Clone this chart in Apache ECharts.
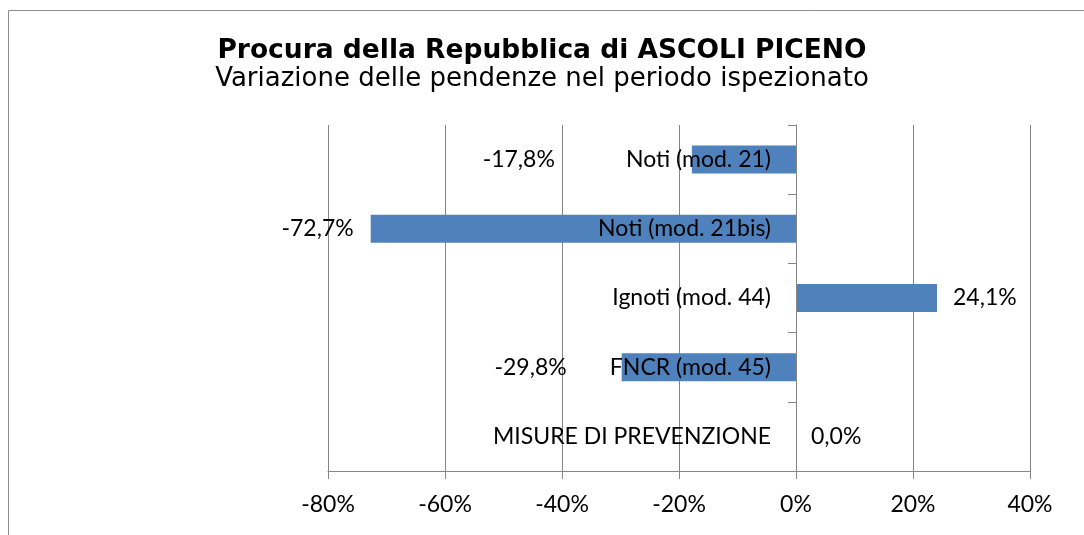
<!DOCTYPE html>
<html><head><meta charset="utf-8">
<script src="https://cdn.jsdelivr.net/npm/echarts@6/dist/echarts.min.js"></script>
<style>html,body{margin:0;padding:0;background:#fff}#c{width:1084px;height:535px}</style>
</head><body><div id="c"></div>
<script>
const categories = ['Noti (mod. 21)', 'Noti (mod. 21bis)', 'Ignoti (mod. 44)', 'FNCR (mod. 45)', 'MISURE DI PREVENZIONE'];
const values = [-17.8, -72.7, 24.1, -29.8, 0.0];
const xTicks = { min: -80, max: 40, interval: 20 };
const titleText = 'Procura della Repubblica di ASCOLI PICENO';
const subtitleText = 'Variazione delle pendenze nel periodo ispezionato';

// label placement styling (mimics the original label positions)
const labelShift = [-137, -17, 16, -55, 15];

const GRID_LEFT = 328, GRID_RIGHT = 54;
const plotW = 1084 - GRID_LEFT - GRID_RIGHT;
// move the category axis onto the zero line
const zeroOffset = -plotW * (0 - xTicks.min) / (xTicks.max - xTicks.min);

const LF = 'Lato';
const chart = echarts.init(document.getElementById('c'), null, { renderer: 'canvas' });
chart.setOption({
  animation: false,
  backgroundColor: '#fff',
  graphic: [{
    type: 'rect', silent: true,
    shape: { x: 8.5, y: 10.5, width: 1200, height: 1000 },
    style: { fill: 'none', stroke: '#8c8c8c', lineWidth: 1 }
  }],
  title: [
    { text: titleText, left: 'center', top: 33,
      textStyle: { fontFamily: 'DejaVu Sans', fontSize: 26.5, fontWeight: 'bold', color: '#000' } },
    { text: subtitleText, left: 'center', top: 61,
      textStyle: { fontFamily: 'DejaVu Sans', fontSize: 26, fontWeight: 'normal', color: '#000' } }
  ],
  grid: { left: GRID_LEFT, right: GRID_RIGHT, top: 125, bottom: 64, containLabel: false },
  xAxis: {
    type: 'value', min: xTicks.min, max: xTicks.max, interval: xTicks.interval,
    z: 0,
    axisLine: { show: true, lineStyle: { color: '#868686', width: 1 } },
    axisTick: { show: true, length: 8, lineStyle: { color: '#868686' } },
    splitLine: { show: true, lineStyle: { color: '#868686', width: 1 } },
    axisLabel: { formatter: '{value}%', fontFamily: LF, fontSize: 23, color: '#000', margin: 22 }
  },
  yAxis: {
    type: 'category', data: categories, inverse: true,
    position: 'left', offset: zeroOffset, z: 5,
    axisLine: { show: true, onZero: false, lineStyle: { color: '#868686', width: 1 } },
    axisTick: { show: true, length: 8, lineStyle: { color: '#868686' } },
    axisLabel: { fontFamily: LF, fontSize: 23, color: '#000', margin: 25 },
    splitLine: { show: false }
  },
  series: [{
    type: 'bar',
    barWidth: 28,
    itemStyle: { color: '#4F81BD' },
    z: 1,
    data: values.map((v, i) => ({
      value: v,
      label: {
        show: true,
        position: v < 0 ? 'left' : 'right',
        distance: 0,
        offset: [labelShift[i], 0],
        formatter: p => p.value.toFixed(1).replace('.', ',') + '%',
        fontFamily: LF, fontSize: 23, color: '#000'
      }
    }))
  }]
});
</script></body></html>
